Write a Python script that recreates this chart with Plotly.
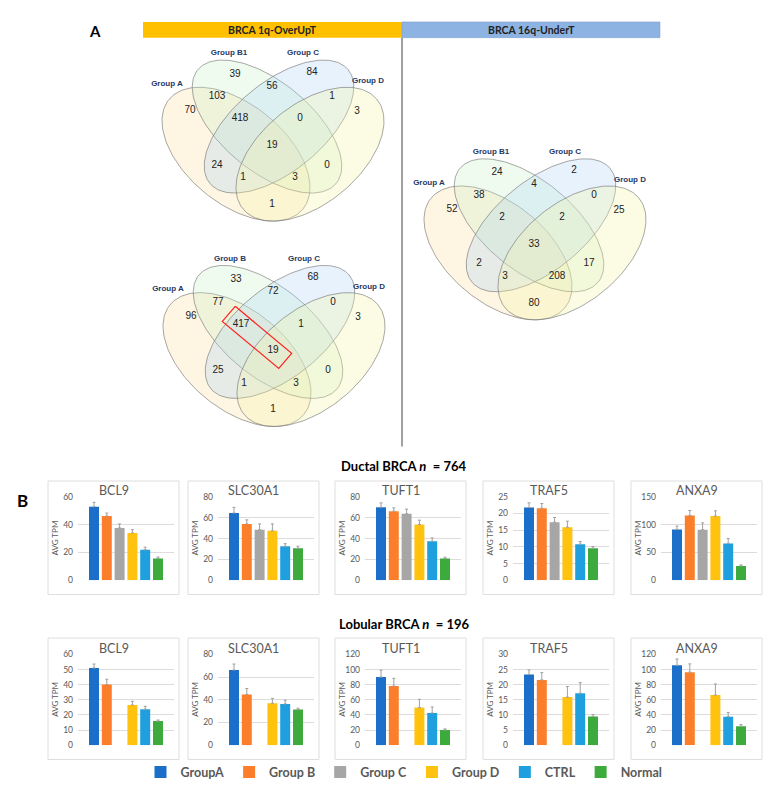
import numpy as np
import plotly.graph_objects as go

W, H = 779, 792
OFF = 8  # page body margin: figure is drawn 8px right/down in the browser

# ---------------- Venn counts ----------------
# region order: A, B, C, D, AB, BC, CD, ABC, BCD, ABCD, AC, BD, ACD, ABD, AD
venn1_sets = ["Group A", "Group B1", "Group C", "Group D"]
venn1_counts = [70, 39, 84, 3, 103, 56, 1, 418, 0, 19, 24, 0, 1, 3, 1]
venn2_sets = ["Group A", "Group B", "Group C", "Group D"]
venn2_counts = [96, 33, 68, 3, 77, 72, 0, 417, 1, 19, 25, 0, 1, 3, 1]
venn3_sets = ["Group A", "Group B1", "Group C", "Group D"]
venn3_counts = [52, 24, 2, 25, 38, 4, 0, 2, 2, 33, 2, 17, 3, 208, 80]

# ---------------- bar data ----------------
groups = ["GroupA", "Group B", "Group C", "Group D", "CTRL", "Normal"]
genes = ["BCL9", "SLC30A1", "TUFT1", "TRAF5", "ANXA9"]

ductal_bcl9 = [52.9, 46.2, 37.6, 34.0, 21.9, 15.7]
ductal_bcl9_err = [3.1, 2.1, 2.9, 2.4, 1.9, 1.0]
ductal_slc30a1 = [64.5, 54.0, 48.4, 47.4, 32.6, 30.7]
ductal_slc30a1_err = [5.4, 3.9, 5.6, 6.6, 2.5, 1.9]
ductal_tuft1 = [70.0, 66.2, 63.7, 53.4, 37.4, 20.8]
ductal_tuft1_err = [4.2, 3.2, 4.5, 4.2, 3.2, 1.3]
ductal_traf5 = [21.8, 21.6, 17.4, 15.9, 10.8, 9.6]
ductal_traf5_err = [1.4, 1.4, 1.4, 1.8, 0.8, 0.5]
ductal_anxa9 = [91.4, 116.6, 90.8, 115.4, 66.2, 25.8]
ductal_anxa9_err = [5.9, 8.8, 12.3, 9.4, 8.8, 1.7]

lobular_bcl9 = [51.1, 40.1, None, 26.6, 23.8, 15.9]
lobular_bcl9_err = [2.6, 3.5, None, 2.4, 1.9, 0.7]
lobular_slc30a1 = [66.3, 44.8, None, 36.9, 36.4, 31.4]
lobular_slc30a1_err = [5.3, 5.2, None, 4.4, 3.2, 1.2]
lobular_tuft1 = [90.1, 78.2, None, 49.7, 42.6, 20.2]
lobular_tuft1_err = [9.2, 10.2, None, 11.0, 7.9, 1.3]
lobular_traf5 = [23.4, 21.6, None, 15.9, 17.2, 9.5]
lobular_traf5_err = [1.5, 2.4, None, 3.5, 3.5, 0.6]
lobular_anxa9 = [105.7, 96.6, None, 66.3, 37.7, 25.1]
lobular_anxa9_err = [8.3, 10.9, None, 14.7, 5.6, 2.2]

ductal_ymax = [60, 80, 80, 25, 150]
ductal_dtick = [20, 20, 20, 5, 50]
lobular_ymax = [60, 80, 120, 30, 120]
lobular_dtick = [10, 20, 20, 5, 20]

ductal_vals = [ductal_bcl9, ductal_slc30a1, ductal_tuft1, ductal_traf5, ductal_anxa9]
ductal_errs = [ductal_bcl9_err, ductal_slc30a1_err, ductal_tuft1_err, ductal_traf5_err, ductal_anxa9_err]
lobular_vals = [lobular_bcl9, lobular_slc30a1, lobular_tuft1, lobular_traf5, lobular_anxa9]
lobular_errs = [lobular_bcl9_err, lobular_slc30a1_err, lobular_tuft1_err, lobular_traf5_err, lobular_anxa9_err]

colors = ["#1b6fc8", "#fb7f2a", "#a6a6a6", "#ffc20e", "#1f9fdd", "#3daa3d"]
GRAY = "#595959"
BAR_FONT = "Lato, Open Sans, sans-serif"
VENN_FONT = "Liberation Sans, Arial, sans-serif"


def xdom(x0, x1):
    return [(x0 - OFF) / W, (x1 - OFF) / W]


def ydom(y0, y1):
    return [1 - (y1 - OFF) / H, 1 - (y0 - OFF) / H]


fig = go.Figure()

# ---------------- Venn diagrams (drawn on a screen-pixel overlay axis) ----------------
region_off = [(-82, -35), (-37, -72), (40, -74), (85, -34), (-55, -49), (0, -60), (60, -49),
              (-32, -27), (28, -27), (0, 0), (-55, 20), (55, 20), (-29, 33), (23, 33), (0, 60)]
label_off = [(-105, -62), (-43, -93), (31, -93), (96, -65)]
# ellipse: dx, dy, semi-major, semi-minor, rotation (deg, screen coords)
ellipses = [(-36, 9, 87, 50, 40), (-5, -19, 90, 45, 40), (7, -19, 90, 45, -40), (38, 9, 87, 50, -40)]
ell_fill = ["rgba(250,215,140,0.25)", "rgba(195,240,195,0.25)",
            "rgba(170,210,245,0.28)", "rgba(245,245,170,0.30)"]

venns = [((272, 142), venn1_sets, venn1_counts, False),
         ((273, 350), venn2_sets, venn2_counts, True),
         ((534, 242), venn3_sets, venn3_counts, False)]

t = np.linspace(0, 2 * np.pi, 181)
for (cx, cy), sets, counts, highlight in venns:
    for (dx, dy, a, b, ang), fc in zip(ellipses, ell_fill):
        th = np.radians(ang)
        ex = cx + dx + a * np.cos(t) * np.cos(th) - b * np.sin(t) * np.sin(th)
        ey = cy + dy + a * np.cos(t) * np.sin(th) + b * np.sin(t) * np.cos(th)
        fig.add_trace(go.Scatter(x=ex, y=ey, mode="lines", fill="toself", fillcolor=fc,
                                 line=dict(color="rgba(110,110,110,0.6)", width=1),
                                 xaxis="x11", yaxis="y11", showlegend=False, hoverinfo="skip"))
    fig.add_trace(go.Scatter(
        x=[cx + o[0] for o in region_off], y=[cy + o[1] for o in region_off],
        text=[str(c) for c in counts], mode="text",
        textfont=dict(family=VENN_FONT, size=10, color="#222222"),
        xaxis="x11", yaxis="y11", showlegend=False, hoverinfo="skip"))
    fig.add_trace(go.Scatter(
        x=[cx + o[0] for o in label_off], y=[cy + o[1] for o in label_off],
        text=["<b>%s</b>" % s for s in sets], mode="text",
        textfont=dict(family=VENN_FONT, size=8, color="#1f3864"),
        xaxis="x11", yaxis="y11", showlegend=False, hoverinfo="skip"))
    if highlight:
        p1 = np.array(region_off[7], float)
        p2 = np.array(region_off[9], float)
        d = (p2 - p1) / np.linalg.norm(p2 - p1)
        n = np.array([-d[1], d[0]]) * 10
        s, e = p1 - 16 * d, p2 + 16 * d
        pts = [s - n, s + n, e + n, e - n, s - n]
        fig.add_trace(go.Scatter(x=[cx + p[0] for p in pts], y=[cy + p[1] for p in pts],
                                 mode="lines", line=dict(color="#ff2020", width=1.2),
                                 xaxis="x11", yaxis="y11", showlegend=False, hoverinfo="skip"))

# ---------------- bar panels ----------------
box_left = [48, 188, 335, 483, 631]
box_w = 131
rows = [
    dict(vals=ductal_vals, errs=ductal_errs, ymax=ductal_ymax, dtick=ductal_dtick,
         box=(482, 597), plot=(498, 582.5), title_y=492),
    dict(vals=lobular_vals, errs=lobular_errs, ymax=lobular_ymax, dtick=lobular_dtick,
         box=(641, 764), plot=(657.7, 749.5), title_y=652),
]

layout_axes = {}
annotations = []
shapes = []
k = 0
for r, row in enumerate(rows):
    for g in range(5):
        k += 1
        xl = box_left[g]
        xa = "x" if k == 1 else "x%d" % k
        ya = "y" if k == 1 else "y%d" % k
        for i, grp in enumerate(groups):
            v = row["vals"][g][i]
            if v is None:
                continue
            fig.add_trace(go.Bar(
                x=[i], y=[v], width=0.78, name=grp, marker_color=colors[i],
                marker_line_width=0, legendgroup=grp, showlegend=(k == 1),
                error_y=dict(type="data", symmetric=False, array=[row["errs"][g][i]],
                             arrayminus=[0], color="#a0a0a0", thickness=1, width=1.5),
                xaxis=xa, yaxis=ya))
        layout_axes["xaxis" if k == 1 else "xaxis%d" % k] = dict(
            domain=xdom(xl + 30, xl + 126), range=[-1.25, 6.25],
            showticklabels=False, showgrid=False, zeroline=False, fixedrange=True,
            anchor=ya)
        layout_axes["yaxis" if k == 1 else "yaxis%d" % k] = dict(
            domain=ydom(*row["plot"]),
            range=[0, row["ymax"][g]], tick0=0, dtick=row["dtick"][g],
            showgrid=True, gridcolor="#dcdcdc", gridwidth=1, zeroline=False,
            showline=False, ticks="", ticklabelstandoff=4, fixedrange=True,
            tickfont=dict(family=BAR_FONT, size=8.5, color=GRAY), anchor=xa)
        shapes.append(dict(type="rect", xref="x11", yref="y11", x0=xl, x1=xl + box_w,
                           y0=row["box"][0], y1=row["box"][1],
                           line=dict(color="#dedede", width=1)))
        annotations.append(dict(x=xl + box_w / 2, y=row["title_y"], xref="x11", yref="y11",
                                text=genes[g], showarrow=False,
                                font=dict(family=BAR_FONT, size=12.5, color=GRAY)))
        annotations.append(dict(x=xl + 7, y=(row["plot"][0] + row["plot"][1]) / 2,
                                xref="x11", yref="y11", text="AVG TPM", textangle=-90,
                                showarrow=False,
                                font=dict(family=BAR_FONT, size=8, color=GRAY)))

# ---------------- header / section decorations ----------------
shapes += [
    dict(type="rect", xref="x11", yref="y11", x0=143, x1=402, y0=17, y1=33,
         fillcolor="#ffc000", line=dict(width=0)),
    dict(type="rect", xref="x11", yref="y11", x0=402, x1=660, y0=17, y1=33,
         fillcolor="#8db3e2", line=dict(color="#7a9fcf", width=0.5)),
    dict(type="line", xref="x11", yref="y11", x0=402, x1=402, y0=33, y1=447,
         line=dict(color="#808080", width=1.5)),
]
annotations += [
    dict(x=95, y=26, xref="x11", yref="y11", text="<b>A</b>", showarrow=False,
         font=dict(family=BAR_FONT, size=15, color="#000000")),
    dict(x=22, y=502, xref="x11", yref="y11", text="<b>B</b>", showarrow=False,
         font=dict(family=BAR_FONT, size=17, color="#000000")),
    dict(x=272, y=25, xref="x11", yref="y11", text="<b>BRCA 1q-OverUpT</b>", showarrow=False,
         font=dict(family=BAR_FONT, size=10.5, color="#222222")),
    dict(x=531, y=25, xref="x11", yref="y11", text="<b>BRCA 16q-UnderT</b>", showarrow=False,
         font=dict(family=BAR_FONT, size=10.5, color="#222222")),
    dict(x=404, y=467, xref="x11", yref="y11", text="<b>Ductal BRCA <i>n</i>  = 764</b>",
         showarrow=False, font=dict(family=BAR_FONT, size=13, color="#000000")),
    dict(x=404, y=627, xref="x11", yref="y11", text="<b>Lobular BRCA <i>n</i>  = 196</b>",
         showarrow=False, font=dict(family=BAR_FONT, size=13, color="#000000")),
]

fig.update_layout(
    width=W, height=H, margin=dict(l=0, r=0, t=0, b=0),
    paper_bgcolor="white", plot_bgcolor="rgba(0,0,0,0)",
    barmode="overlay", shapes=shapes, annotations=annotations,
    xaxis11=dict(domain=[0, 1], range=[OFF, W + OFF], visible=False, fixedrange=True,
                 anchor="y11"),
    yaxis11=dict(domain=[0, 1], range=[H + OFF, OFF], visible=False, fixedrange=True,
                 anchor="x11"),
    legend=dict(orientation="h", x=(404 - OFF) / W, xanchor="center",
                y=1 - (777 - OFF) / H, yanchor="middle",
                font=dict(family=BAR_FONT, size=12.5, color=GRAY, weight="bold"),
                traceorder="normal", bgcolor="rgba(0,0,0,0)", itemwidth=30),
    **layout_axes,
)

fig.write_html("out.html")
